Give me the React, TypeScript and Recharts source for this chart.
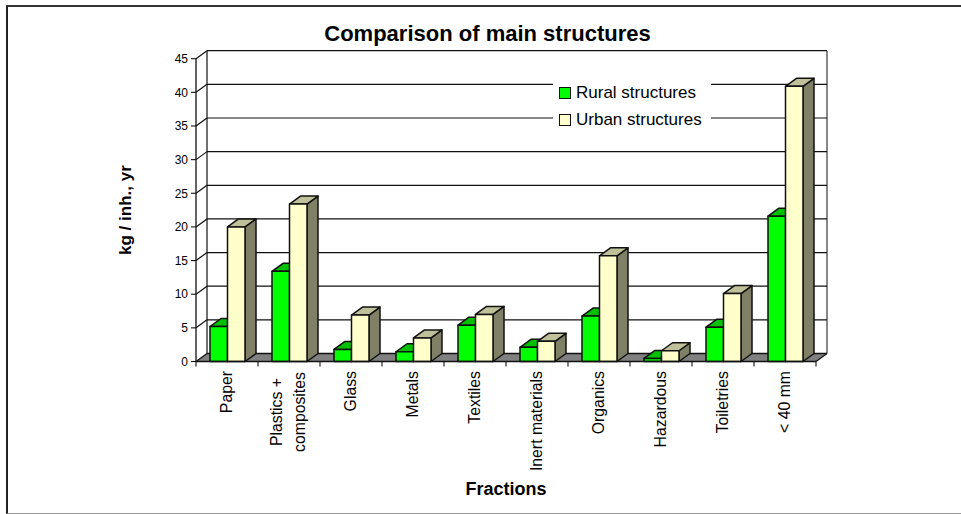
import React from 'react';
import { BarChart, Bar, XAxis, YAxis, CartesianGrid, Legend } from 'recharts';

const categories = ['Paper', 'Plastics +|composites', 'Glass', 'Metals', 'Textiles', 'Inert materials', 'Organics', 'Hazardous', 'Toiletries', '< 40 mm'];
const rural = [5.2, 13.4, 1.8, 1.45, 5.4, 2.1, 6.75, 0.45, 5.1, 21.6];
const urban = [20, 23.4, 6.9, 3.5, 7, 3, 15.7, 1.6, 10.1, 40.9];
const yTicks = [0, 5, 10, 15, 20, 25, 30, 35, 40, 45];

const data = categories.map((name, i) => ({ name, rural: rural[i], urban: urban[i] }));

const FONT = '"Liberation Sans", Arial, sans-serif';
const DX = 11;
const DY = 8;
const INK = '#111';

// A box with a lit top and a shaded side, extruded back by the wall depth.
const box = (top: string, side: string) => (props: any) => {
  const { x, y, width: w, height: h, fill } = props;
  return (
    <g stroke={INK} strokeWidth={1.5} strokeLinejoin="round">
      <polygon fill={side} points={`${x + w},${y} ${x + w + DX},${y - DY} ${x + w + DX},${y + h - DY} ${x + w},${y + h}`} />
      <polygon fill={top} points={`${x},${y} ${x + DX},${y - DY} ${x + w + DX},${y - DY} ${x + w},${y}`} />
      <rect x={x} y={y} width={w} height={h} fill={fill} />
    </g>
  );
};

// Gridlines sit on the back wall; the zero line also draws the floor and wall edges.
const wallLine = (props: any) => {
  const { x1, x2, y1, y, height, index } = props;
  const isFloor = Math.abs(y1 - (y + height)) < 0.5;
  return (
    <g key={`wall-${index}`} stroke={INK} strokeWidth={1.2}>
      {isFloor && (
        <>
          <polygon fill="#808080" stroke="none" points={`${x1},${y1} ${x1 + DX},${y1 - DY} ${x2 + DX},${y1 - DY} ${x2},${y1}`} />
          <line x1={x1 + DX} x2={x1 + DX} y1={y - DY} y2={y1 - DY} />
          <line x1={x2 + DX} x2={x2 + DX} y1={y - DY} y2={y1 - DY} strokeWidth={1} />
          <line x1={x2} x2={x2 + DX} y1={y1} y2={y1 - DY} />
        </>
      )}
      <line x1={x1 + DX} x2={x2 + DX} y1={y1 - DY} y2={y1 - DY} strokeWidth={isFloor ? 1.6 : 1.2} />
      <line x1={x1} x2={x1 + DX} y1={y1} y2={y1 - DY} />
    </g>
  );
};

const CategoryTick = (props: any) => {
  const { x, y, payload, index } = props;
  const half = 31;
  const lines = String(payload.value).split('|');
  const gap = 23;
  return (
    <g>
      <line x1={x - half} x2={x - half} y1={y} y2={y + 5} stroke={INK} strokeWidth={1.1} />
      {index === categories.length - 1 && <line x1={x + half} x2={x + half} y1={y} y2={y + 5} stroke={INK} strokeWidth={1.1} />}
      {lines.map((line, i) => {
        const lx = x + (i - (lines.length - 1) / 2) * gap + 4.5;
        const ly = lines.length > 1 ? y + 50.5 : y + 9.5;
        return (
          <text
            key={line}
            x={0}
            y={0}
            transform={`translate(${lx},${ly}) rotate(-90)`}
            textAnchor={lines.length > 1 ? 'middle' : 'end'}
            fontSize={15.8}
            fontFamily={FONT}
            fill="#000"
          >
            {line}
          </text>
        );
      })}
    </g>
  );
};

const LegendBox = ({ payload }: any) => (
  <div style={{ background: '#fff', width: 158, height: 50, boxSizing: 'border-box', paddingTop: 1, fontFamily: FONT, fontSize: 17 }}>
    {(payload || []).map((entry: any) => (
      <div key={entry.value} style={{ display: 'flex', alignItems: 'center', height: 27, paddingLeft: 6, whiteSpace: 'nowrap' }}>
        <span style={{ width: 10, height: 10, background: entry.color, border: '1px solid #111', marginRight: 5, flex: 'none' }} />
        <span>{entry.value}</span>
      </div>
    ))}
  </div>
);

export default function App() {
  return (
    <div style={{ position: 'absolute', left: 0, top: 0, width: 961, height: 514, background: '#fff' }}>
      <div style={{ position: 'absolute', left: 6, top: 5, width: 955, height: 509, boxSizing: 'border-box', borderLeft: '2px solid #222', borderTop: '2px solid #333', borderBottom: '1px solid #999' }} />
      <BarChart
        width={961}
        height={514}
        data={data}
        barSize={17.5}
        barGap={0}
        margin={{ top: 58.7, right: 145, bottom: 32.5, left: 121 }}
        style={{ position: 'absolute', left: 0, top: 0 }}
      >
        <text x={487.5} y={41} textAnchor="middle" fontFamily={FONT} fontWeight="bold" fontSize={22}>
          Comparison of main structures
        </text>
        <CartesianGrid vertical={false} horizontal={wallLine} />
        <XAxis
          dataKey="name"
          height={120}
          interval={0}
          tickLine={false}
          tickSize={0}
          tickMargin={0}
          axisLine={{ stroke: INK, strokeWidth: 1.3 }}
          tick={<CategoryTick />}
          label={{ value: 'Fractions', position: 'insideBottom', offset: -13, fontFamily: FONT, fontWeight: 'bold', fontSize: 18, fill: '#000' }}
        />
        <YAxis
          width={75}
          domain={[0, 45]}
          ticks={yTicks}
          interval={0}
          tickSize={5}
          tickMargin={3}
          axisLine={{ stroke: INK, strokeWidth: 1.3 }}
          tickLine={{ stroke: INK, strokeWidth: 1.1 }}
          tick={{ fontFamily: FONT, fontSize: 12, fill: '#000' }}
          label={{ value: 'kg / inh., yr', angle: -90, position: 'insideLeft', offset: 4, textAnchor: 'middle', fontFamily: FONT, fontWeight: 'bold', fontSize: 17, fill: '#000' }}
        />
        <Legend
          layout="horizontal"
          verticalAlign="middle"
          wrapperStyle={{ left: 553, top: 78, width: 158, height: 50 }}
          content={<LegendBox />}
        />
        <Bar dataKey="rural" name="Rural structures" fill="#00FF00" isAnimationActive={false} shape={box('#00C000', '#008000')} />
        <Bar dataKey="urban" name="Urban structures" fill="#FFFFCC" isAnimationActive={false} shape={box('#C0C09A', '#808066')} />
      </BarChart>
    </div>
  );
}
